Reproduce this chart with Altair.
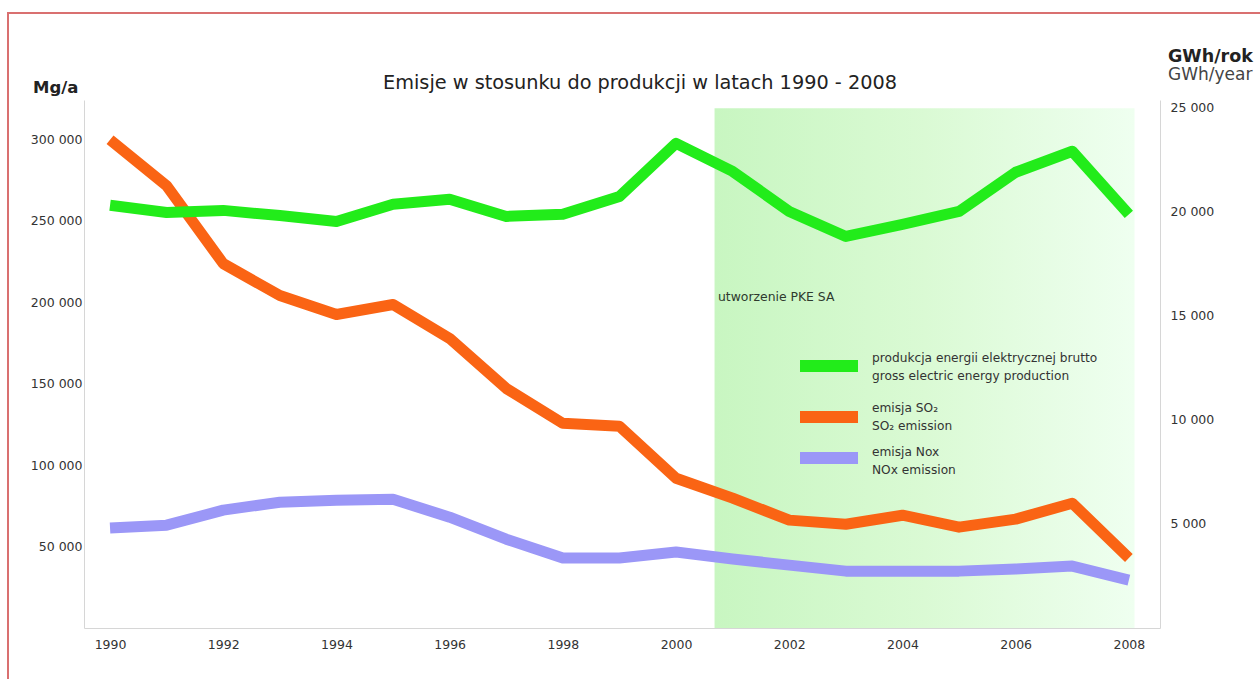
import altair as alt
import pandas as pd

# Years covered
years = list(range(1990, 2009))

# Gross electric energy production, GWh/year (right axis)
energy_gwh = [20300, 19950, 20050, 19800, 19520, 20340, 20580, 19760, 19860, 20720,
              23270, 21920, 20000, 18800, 19380, 20000, 21880, 22890, 19860]

# SO2 emission, Mg/a (left axis)
so2_mg = [299600, 271400, 223600, 204000, 192400, 198500, 177700, 147000, 125600, 123800,
          91900, 79700, 66200, 63700, 69200, 61900, 66800, 76600, 43000]

# NOx emission, Mg/a (left axis)
nox_mg = [61300, 63100, 72300, 77200, 78400, 79000, 68000, 54500, 42900, 42900,
          46600, 42300, 38600, 34900, 34900, 34900, 36200, 38000, 29400]

# Period after the company was formed
pke_start, pke_end = 2000.68, 2008.1

x_ticks = [1990, 1992, 1994, 1996, 1998, 2000, 2002, 2004, 2006, 2008]
left_ticks = [50000, 100000, 150000, 200000, 250000, 300000]
right_ticks = [5000, 10000, 15000, 20000, 25000]

series_names = ["so2", "nox"]
series_colors = ["#fa6414", "#9b97f7"]
energy_color = "#22ec1a"

FONT = "DejaVu Sans"
W, H = 1076, 528
X_DOMAIN = [1989.54, 2008.55]
LEFT_DOMAIN = [0, 324000]
RIGHT_DOMAIN = [0, 25350]

df = pd.DataFrame({"year": years, "energy": energy_gwh, "so2": so2_mg, "nox": nox_mg})
band = pd.DataFrame({"x1": [pke_start], "x2": [pke_end], "y1": [0], "y2": [319000]})

space_fmt = "replace(format(datum.value, ','), ',', ' ')"

x_scale = alt.Scale(domain=X_DOMAIN, nice=False, zero=False)
x_axis = alt.Axis(orient="bottom", values=x_ticks, format="d", ticks=False, grid=False,
                  domainColor="#d6d6d6", labelPadding=10, labelFontSize=12.5,
                  labelColor="#333", labelFont=FONT, title=None)

shade = alt.Chart(band).mark_rect(
    color=alt.LinearGradient(
        gradient="linear", x1=0, x2=1, y1=0, y2=0,
        stops=[alt.GradientStop(color="#c8f6c1", offset=0),
               alt.GradientStop(color="#dafad4", offset=0.5),
               alt.GradientStop(color="#effff0", offset=1)])
).encode(
    x=alt.X("x1:Q", scale=x_scale, axis=x_axis),
    x2="x2:Q",
    y=alt.Y("y1:Q", scale=alt.Scale(domain=LEFT_DOMAIN, nice=False), axis=None),
    y2="y2:Q",
)

emissions = alt.Chart(df).transform_fold(
    series_names, as_=["series", "value"]
).mark_line(strokeWidth=11, strokeCap="butt", strokeJoin="round").encode(
    x=alt.X("year:Q", scale=x_scale, axis=x_axis),
    y=alt.Y("value:Q", scale=alt.Scale(domain=LEFT_DOMAIN, nice=False),
            axis=alt.Axis(orient="left", values=left_ticks, labelExpr=space_fmt,
                          ticks=False, grid=False, domainColor="#d6d6d6", labelPadding=2,
                          labelFontSize=12.5, labelColor="#333", labelFont=FONT, title=None)),
    color=alt.Color("series:N", scale=alt.Scale(domain=series_names, range=series_colors),
                    legend=None),
)

energy = alt.Chart(df).mark_line(strokeWidth=11, strokeCap="butt", strokeJoin="round",
                                 color=energy_color).encode(
    x=alt.X("year:Q", scale=x_scale, axis=x_axis),
    y=alt.Y("energy:Q", scale=alt.Scale(domain=RIGHT_DOMAIN, nice=False),
            axis=alt.Axis(orient="right", values=right_ticks, labelExpr=space_fmt,
                          ticks=False, grid=False, domainColor="#d6d6d6", labelPadding=10,
                          labelFontSize=12.5, labelColor="#333", labelFont=FONT, title=None)),
)

one = pd.DataFrame({"k": [0]})


def label(text, x, y, size=12.2, weight="normal", align="left", color="#333"):
    return alt.Chart(one).mark_text(
        text=text, font=FONT, fontSize=size, fontWeight=weight, align=align,
        baseline="middle", color=color, lineBreak="\n", lineHeight=17.5
    ).encode(x=alt.value(x), y=alt.value(y))


def swatch(color, y):
    return alt.Chart(one).mark_rule(strokeWidth=12, color=color, strokeCap="butt").encode(
        x=alt.value(716), x2=alt.value(774), y=alt.value(y), y2=alt.value(y))


texts = [
    label("Emisje w stosunku do produkcji w latach 1990 - 2008", 556, -17, size=19.3,
          align="center", color="#222"),
    label("Mg/a", -51, -12, size=16.5, weight="bold", color="#222"),
    label("GWh/rok", 1084, -43, size=17.5, weight="bold", color="#222"),
    label("GWh/year", 1084, -25, size=17, color="#444"),
    label("utworzenie PKE SA", 634, 197, size=12.4, color="#2e3a2e"),
    label("produkcja energii elektrycznej brutto\ngross electric energy production", 788, 258),
    label("emisja SO\u2082\nSO\u2082 emission", 788, 308),
    label("emisja Nox\nNOx emission", 788, 352),
]

swatches = [swatch(energy_color, 266), swatch(series_colors[0], 317), swatch(series_colors[1], 358)]

frame = alt.Chart(one).mark_rect(filled=False, stroke="#d97070", strokeWidth=2).encode(
    x=alt.value(-76), x2=alt.value(1300), y=alt.value(-87), y2=alt.value(700))

chart = alt.layer(
    shade, emissions, energy, frame, *swatches, *texts
).resolve_scale(
    y="independent"
).resolve_axis(
    x="shared"
).properties(
    width=W, height=H,
    background="white",
    autosize=alt.AutoSizeParams(type="none"),
    padding={"left": 84, "top": 100, "right": 100, "bottom": 51},
).configure_view(strokeWidth=0, stroke="transparent")

chart.save("out.html", embed_options={"renderer": "svg", "actions": False})
